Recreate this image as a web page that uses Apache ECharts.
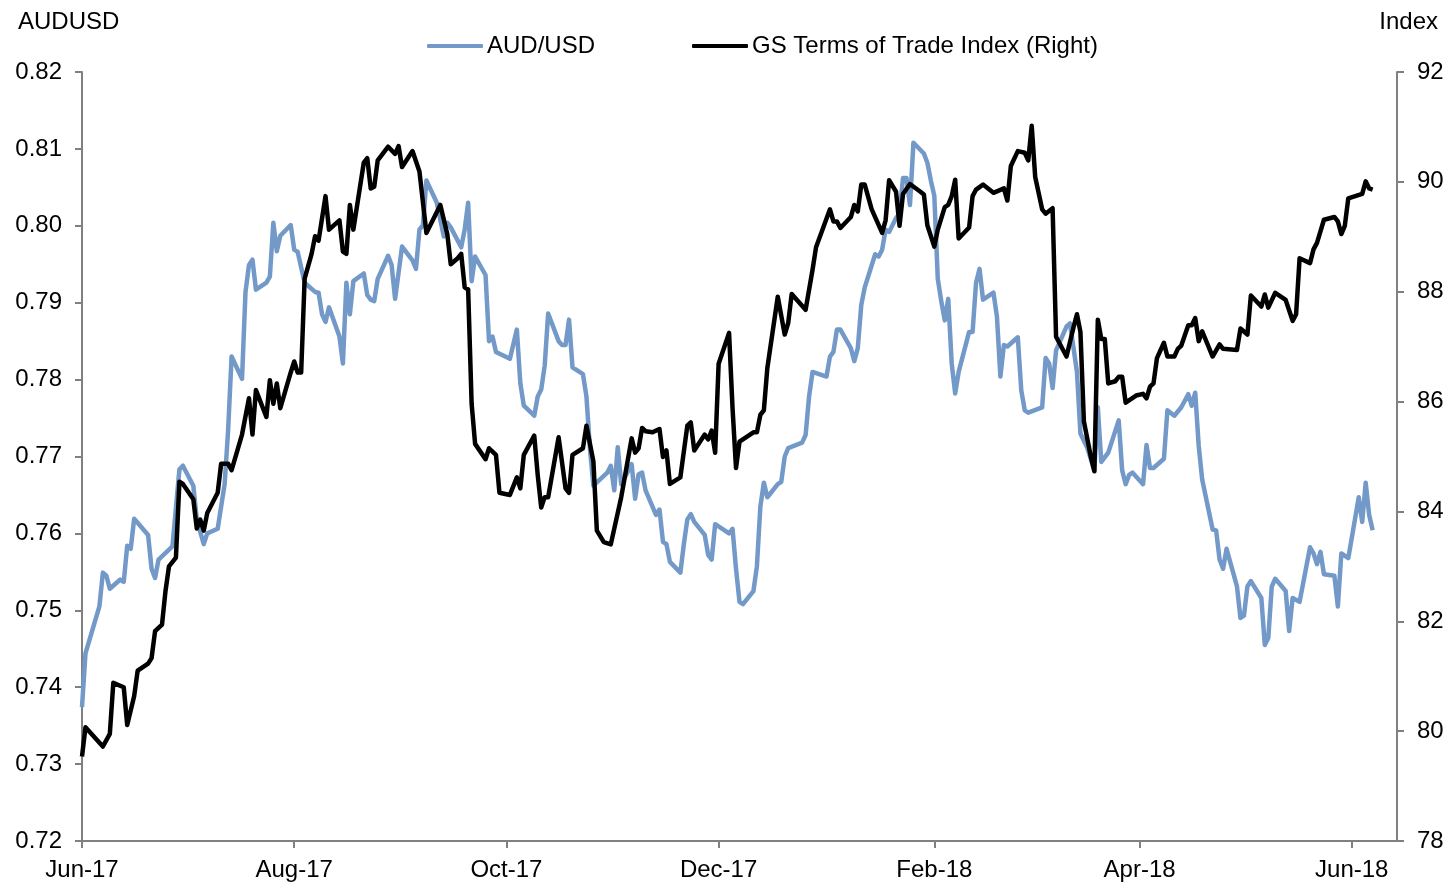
<!DOCTYPE html>
<html>
<head>
<meta charset="utf-8">
<script src="https://cdn.jsdelivr.net/npm/echarts@6/dist/echarts.min.js"></script>
<style>
html,body{margin:0;padding:0;background:#fff;}
#chart{width:1451px;height:885px;}
</style>
</head>
<body>
<div id="chart"></div>
<script>
// ---- DATA ----
const xTickDates = ['2017-06-01','2017-08-01','2017-10-01','2017-12-01','2018-02-01','2018-04-01','2018-06-01'];
const xTickLabels = ['Jun-17','Aug-17','Oct-17','Dec-17','Feb-18','Apr-18','Jun-18'];
const xRange = ['2017-06-01','2018-06-14'];

const audDates = ['2017-06-01','2017-06-02','2017-06-06','2017-06-07','2017-06-08','2017-06-09','2017-06-12','2017-06-13','2017-06-14','2017-06-15','2017-06-16','2017-06-20','2017-06-21','2017-06-22','2017-06-23','2017-06-27','2017-06-29','2017-06-30',
'2017-07-03','2017-07-04','2017-07-06','2017-07-07','2017-07-10','2017-07-12','2017-07-13','2017-07-14','2017-07-17','2017-07-18','2017-07-19','2017-07-20','2017-07-21','2017-07-24','2017-07-25','2017-07-26','2017-07-27','2017-07-28','2017-07-31',
'2017-08-01','2017-08-02','2017-08-04','2017-08-07','2017-08-08','2017-08-09','2017-08-10','2017-08-11','2017-08-14','2017-08-15','2017-08-16','2017-08-17','2017-08-18','2017-08-21','2017-08-22','2017-08-23','2017-08-24','2017-08-25','2017-08-28','2017-08-29','2017-08-30',
'2017-09-01','2017-09-04','2017-09-05','2017-09-06','2017-09-07','2017-09-08','2017-09-11','2017-09-13','2017-09-14','2017-09-15','2017-09-18','2017-09-19','2017-09-20','2017-09-21','2017-09-22','2017-09-25','2017-09-26','2017-09-27','2017-09-28',
'2017-10-02','2017-10-04','2017-10-05','2017-10-06','2017-10-09','2017-10-10','2017-10-11','2017-10-12','2017-10-13','2017-10-16','2017-10-17','2017-10-18','2017-10-19','2017-10-20','2017-10-23','2017-10-24','2017-10-25','2017-10-26','2017-10-30','2017-10-31',
'2017-11-01','2017-11-02','2017-11-03','2017-11-06','2017-11-07','2017-11-08','2017-11-09','2017-11-10','2017-11-13','2017-11-14','2017-11-15','2017-11-16','2017-11-17','2017-11-20','2017-11-21','2017-11-22','2017-11-23','2017-11-24','2017-11-27','2017-11-28','2017-11-29','2017-11-30',
'2017-12-04','2017-12-05','2017-12-06','2017-12-07','2017-12-08','2017-12-11','2017-12-12','2017-12-13','2017-12-14','2017-12-15','2017-12-18','2017-12-19','2017-12-20','2017-12-21','2017-12-25','2017-12-26','2017-12-27','2017-12-28',
'2018-01-01','2018-01-02','2018-01-03','2018-01-04','2018-01-05','2018-01-08','2018-01-09','2018-01-10','2018-01-11','2018-01-12','2018-01-15','2018-01-16','2018-01-17','2018-01-18','2018-01-19','2018-01-21','2018-01-22','2018-01-23','2018-01-24','2018-01-25','2018-01-26','2018-01-29','2018-01-30','2018-01-31',
'2018-02-01','2018-02-02','2018-02-03','2018-02-04','2018-02-05','2018-02-06','2018-02-07','2018-02-08','2018-02-11','2018-02-12','2018-02-13','2018-02-14','2018-02-15','2018-02-18','2018-02-19','2018-02-20','2018-02-21','2018-02-22','2018-02-25','2018-02-26','2018-02-27','2018-02-28',
'2018-03-04','2018-03-05','2018-03-06','2018-03-07','2018-03-08','2018-03-11','2018-03-12','2018-03-14','2018-03-15','2018-03-17','2018-03-19','2018-03-20','2018-03-21','2018-03-23','2018-03-26','2018-03-27','2018-03-28','2018-03-29','2018-03-30',
'2018-04-02','2018-04-03','2018-04-04','2018-04-05','2018-04-08','2018-04-09','2018-04-11','2018-04-13','2018-04-15','2018-04-16','2018-04-17','2018-04-18','2018-04-19','2018-04-22','2018-04-23','2018-04-24','2018-04-25','2018-04-26','2018-04-29','2018-04-30',
'2018-05-01','2018-05-02','2018-05-03','2018-05-06','2018-05-07','2018-05-08','2018-05-09','2018-05-10','2018-05-13','2018-05-14','2018-05-15','2018-05-17','2018-05-20','2018-05-21','2018-05-22','2018-05-23','2018-05-24','2018-05-27','2018-05-28','2018-05-29','2018-05-31',
'2018-06-03','2018-06-04','2018-06-05','2018-06-06','2018-06-07'];
const audValues = [0.7374,0.7444,0.7505,0.7549,0.7545,0.7528,0.7540,0.7537,0.7584,0.7580,0.7619,0.7598,0.7554,0.7542,0.7566,0.7583,0.7683,0.7688,
0.7662,0.7618,0.7586,0.7600,0.7606,0.7664,0.7734,0.7830,0.7801,0.7914,0.7949,0.7956,0.7917,0.7926,0.7934,0.8004,0.7967,0.7987,0.8001,
0.7969,0.7966,0.7926,0.7914,0.7913,0.7885,0.7875,0.7894,0.7856,0.7821,0.7926,0.7885,0.7928,0.7938,0.7910,0.7904,0.7902,0.7931,0.7961,0.7949,0.7905,
0.7973,0.7955,0.7944,0.7995,0.8001,0.8059,0.8030,0.7986,0.8004,0.7998,0.7972,0.7995,0.8030,0.7928,0.7960,0.7936,0.7850,0.7856,0.7836,
0.7827,0.7865,0.7795,0.7766,0.7753,0.7778,0.7787,0.7818,0.7886,0.7850,0.7845,0.7845,0.7878,0.7816,0.7807,0.7778,0.7711,0.7662,0.7679,0.7688,
0.7656,0.7712,0.7664,0.7690,0.7645,0.7677,0.7679,0.7656,0.7624,0.7631,0.7589,0.7586,0.7563,0.7549,0.7586,0.7618,0.7625,0.7615,0.7598,0.7572,0.7566,0.7612,
0.7600,0.7606,0.7554,0.7511,0.7508,0.7525,0.7557,0.7635,0.7666,0.7647,0.7664,0.7667,0.7700,0.7711,0.7718,0.7728,0.7778,0.7810,
0.7804,0.7830,0.7836,0.7865,0.7865,0.7841,0.7824,0.7841,0.7897,0.7920,0.7963,0.7960,0.7969,0.7995,0.7992,0.8010,0.8016,0.8062,0.8062,0.8027,0.8108,0.8094,0.8082,0.8059,
0.8039,0.7931,0.7902,0.7877,0.7905,0.7821,0.7782,0.7810,0.7862,0.7862,0.7926,0.7944,0.7904,0.7913,0.7882,0.7804,0.7845,0.7843,0.7855,0.7786,0.7760,0.7757,
0.7764,0.7828,0.7821,0.7789,0.7838,0.7869,0.7873,0.7810,0.7730,0.7711,0.7682,0.7764,0.7693,0.7705,0.7747,0.7682,0.7664,0.7676,0.7679,
0.7664,0.7715,0.7685,0.7685,0.7697,0.7760,0.7753,0.7764,0.7781,0.7766,0.7783,0.7714,0.7670,0.7605,0.7604,0.7566,0.7554,0.7580,0.7531,0.7490,
0.7493,0.7531,0.7538,0.7516,0.7455,0.7464,0.7531,0.7541,0.7525,0.7473,0.7516,0.7511,0.7582,0.7574,0.7560,0.7576,0.7547,0.7545,0.7505,0.7574,0.7568,
0.7647,0.7615,0.7666,0.7624,0.7604];

const gsDates = ['2017-06-01','2017-06-02','2017-06-07','2017-06-09','2017-06-10','2017-06-13','2017-06-14','2017-06-16','2017-06-17','2017-06-20','2017-06-21','2017-06-22','2017-06-24','2017-06-25','2017-06-26','2017-06-28','2017-06-29','2017-06-30',
'2017-07-03','2017-07-04','2017-07-05','2017-07-06','2017-07-07','2017-07-10','2017-07-11','2017-07-13','2017-07-14','2017-07-17','2017-07-19','2017-07-20','2017-07-21','2017-07-24','2017-07-25','2017-07-26','2017-07-27','2017-07-28','2017-07-31',
'2017-08-01','2017-08-02','2017-08-03','2017-08-04','2017-08-06','2017-08-07','2017-08-08','2017-08-10','2017-08-11','2017-08-14','2017-08-15','2017-08-16','2017-08-17','2017-08-18','2017-08-21','2017-08-22','2017-08-23','2017-08-24','2017-08-25','2017-08-28','2017-08-30','2017-08-31',
'2017-09-01','2017-09-04','2017-09-06','2017-09-08','2017-09-12','2017-09-14','2017-09-15','2017-09-17','2017-09-18','2017-09-19','2017-09-20','2017-09-21','2017-09-22','2017-09-25','2017-09-26','2017-09-28','2017-09-29',
'2017-10-02','2017-10-04','2017-10-05','2017-10-06','2017-10-09','2017-10-10','2017-10-11','2017-10-12','2017-10-13','2017-10-16','2017-10-18','2017-10-19','2017-10-20','2017-10-23','2017-10-24','2017-10-26','2017-10-27','2017-10-29','2017-10-31',
'2017-11-03','2017-11-06','2017-11-07','2017-11-08','2017-11-09','2017-11-10','2017-11-12','2017-11-14','2017-11-15','2017-11-16','2017-11-17','2017-11-20','2017-11-22','2017-11-23','2017-11-24','2017-11-27','2017-11-28','2017-11-29','2017-11-30',
'2017-12-01','2017-12-04','2017-12-05','2017-12-06','2017-12-07','2017-12-11','2017-12-12','2017-12-13','2017-12-14','2017-12-15','2017-12-18','2017-12-20','2017-12-21','2017-12-22','2017-12-26','2017-12-28','2017-12-29',
'2018-01-02','2018-01-03','2018-01-04','2018-01-05','2018-01-08','2018-01-09','2018-01-10','2018-01-11','2018-01-12','2018-01-14','2018-01-17','2018-01-18','2018-01-19','2018-01-21','2018-01-22','2018-01-23','2018-01-25','2018-01-28','2018-01-29','2018-01-30',
'2018-02-01','2018-02-02','2018-02-04','2018-02-05','2018-02-06','2018-02-07','2018-02-08','2018-02-11','2018-02-12','2018-02-13','2018-02-15','2018-02-18','2018-02-21','2018-02-22','2018-02-23','2018-02-25','2018-02-27','2018-02-28',
'2018-03-01','2018-03-02','2018-03-04','2018-03-05','2018-03-07','2018-03-08','2018-03-11','2018-03-13','2018-03-14','2018-03-15','2018-03-16','2018-03-18','2018-03-19','2018-03-20','2018-03-21','2018-03-22','2018-03-23','2018-03-25','2018-03-26','2018-03-27','2018-03-28','2018-03-31',
'2018-04-02','2018-04-03','2018-04-04','2018-04-05','2018-04-06','2018-04-08','2018-04-09','2018-04-11','2018-04-12','2018-04-13','2018-04-15','2018-04-16','2018-04-17','2018-04-18','2018-04-19','2018-04-22','2018-04-24','2018-04-25','2018-04-29','2018-04-30',
'2018-05-02','2018-05-03','2018-05-06','2018-05-07','2018-05-08','2018-05-10','2018-05-13','2018-05-15','2018-05-16','2018-05-17','2018-05-20','2018-05-21','2018-05-22','2018-05-24','2018-05-27','2018-05-28','2018-05-29','2018-05-30','2018-05-31',
'2018-06-04','2018-06-05','2018-06-06','2018-06-07'];
const gsValues = [79.54,80.07,79.72,79.95,80.88,80.80,80.11,80.64,81.10,81.23,81.33,81.82,81.94,82.55,83.00,83.16,84.54,84.50,
84.22,83.69,83.85,83.65,83.97,84.34,84.87,84.87,84.75,85.40,86.06,85.40,86.21,85.72,86.39,85.96,86.33,85.88,86.53,
86.73,86.53,86.53,88.24,88.69,89.01,88.93,89.74,89.13,89.30,88.73,88.69,89.58,89.13,90.35,90.43,89.88,89.91,90.39,90.64,90.51,90.65,
90.27,90.56,90.19,89.07,89.58,89.05,88.50,88.61,88.69,88.08,88.04,85.96,85.23,84.95,85.15,85.03,84.34,
84.30,84.62,84.42,85.03,85.38,84.66,84.07,84.26,84.26,85.35,84.42,84.34,85.03,85.15,85.56,84.91,83.65,83.44,83.40,
84.26,85.33,85.07,85.15,85.52,85.46,85.44,85.50,84.99,85.11,84.50,84.62,85.56,85.62,85.11,85.40,85.31,85.47,85.07,
86.69,87.25,85.88,84.79,85.27,85.44,85.44,85.76,85.84,86.61,87.91,87.22,87.43,87.96,87.67,88.40,88.81,
89.50,89.28,89.28,89.16,89.36,89.58,89.46,89.95,89.95,89.50,89.07,89.30,90.03,89.82,89.20,89.78,89.96,89.82,89.77,89.21,
88.82,89.13,89.54,89.58,89.74,90.04,88.97,89.17,89.74,89.86,89.95,89.80,89.88,89.66,90.29,90.56,90.53,90.39,
91.02,90.09,89.50,89.42,89.52,87.18,86.82,87.35,87.59,87.27,85.64,84.99,84.73,87.49,87.14,87.14,86.33,86.37,86.45,86.45,85.98,86.11,
86.14,86.06,86.27,86.33,86.79,87.07,86.82,86.82,86.96,87.02,87.39,87.39,87.52,87.10,87.28,86.82,87.04,86.96,86.94,87.33,
87.22,87.93,87.73,87.95,87.71,87.98,87.85,87.47,87.59,88.61,88.52,88.77,88.89,89.31,89.36,89.28,89.05,89.20,89.70,
89.78,90.01,89.88,89.86];

// ---- CHART ----
const DAY = 86400000;
function dayIndex(s){ // days elapsed since the first date of the axis
  const p=s.split('-').map(Number), q=xRange[0].split('-').map(Number);
  return Math.round((Date.UTC(p[0],p[1]-1,p[2]) - Date.UTC(q[0],q[1]-1,q[2]))/DAY);
}
const tickDays = xTickDates.map(dayIndex);
const labelMap = {};
tickDays.forEach((t,i)=>{labelMap[t]=xTickLabels[i];});
const FONT = "'Liberation Sans', Arial, sans-serif";
const FS = 24;
const AXIS_COLOR = '#808080';

const chart = echarts.init(document.getElementById('chart'), null, {renderer:'canvas'});
chart.setOption({
  animation:false,
  backgroundColor:'#ffffff',
  textStyle:{fontFamily:FONT},
  grid:{left:82,right:54,top:72,bottom:44,containLabel:false},
  legend:{
    left:427, top:34, padding:0, itemWidth:56, itemHeight:4, itemGap:97, icon:'roundRect',
    textStyle:{fontFamily:FONT,fontSize:FS,color:'#000',padding:[0,0,0,-1]},
    data:['AUD/USD','GS Terms of Trade Index (Right)']
  },
  graphic:[
    {type:'text',left:18,top:10,style:{text:'AUDUSD',font:FS+"px 'Liberation Sans', Arial, sans-serif",fill:'#000'}},
    {type:'text',right:13,top:10,style:{text:'Index',font:FS+"px 'Liberation Sans', Arial, sans-serif",fill:'#000'}}
  ],
  xAxis:{
    type:'value', min:dayIndex(xRange[0]), max:dayIndex(xRange[1]),
    axisLine:{lineStyle:{color:AXIS_COLOR,width:2}},
    axisTick:{show:true,inside:false,length:7,lineStyle:{color:AXIS_COLOR,width:2},customValues:tickDays},
    axisLabel:{customValues:tickDays,margin:17,fontSize:FS,color:'#000',fontFamily:FONT,
      showMinLabel:true,showMaxLabel:true,
      formatter:function(v){return labelMap[Math.round(v)]||'';}},
    splitLine:{show:false}
  },
  yAxis:[
    {type:'value',min:0.72,max:0.82,interval:0.01,position:'left',
     axisLine:{show:true,lineStyle:{color:AXIS_COLOR,width:2}},
     axisTick:{show:true,inside:false,length:7,lineStyle:{color:AXIS_COLOR,width:2}},
     axisLabel:{margin:20,fontSize:FS,color:'#000',fontFamily:FONT,formatter:function(v){return v.toFixed(2);}},
     splitLine:{show:false}},
    {type:'value',min:78,max:92,interval:2,position:'right',
     axisLine:{show:true,lineStyle:{color:AXIS_COLOR,width:2}},
     axisTick:{show:true,inside:false,length:7,lineStyle:{color:AXIS_COLOR,width:2}},
     axisLabel:{margin:20,fontSize:FS,color:'#000',fontFamily:FONT},
     splitLine:{show:false}}
  ],
  series:[
    {name:'AUD/USD',type:'line',yAxisIndex:0,showSymbol:false,symbol:'none',
     lineStyle:{color:'#7399c8',width:4.5,join:'round'},itemStyle:{color:'#7399c8'},
     data:audDates.map((d,i)=>[dayIndex(d),audValues[i]])},
    {name:'GS Terms of Trade Index (Right)',type:'line',yAxisIndex:1,showSymbol:false,symbol:'none',
     lineStyle:{color:'#000000',width:4.5,join:'round'},itemStyle:{color:'#000000'},
     data:gsDates.map((d,i)=>[dayIndex(d),gsValues[i]])}
  ]
});
</script>
</body>
</html>
